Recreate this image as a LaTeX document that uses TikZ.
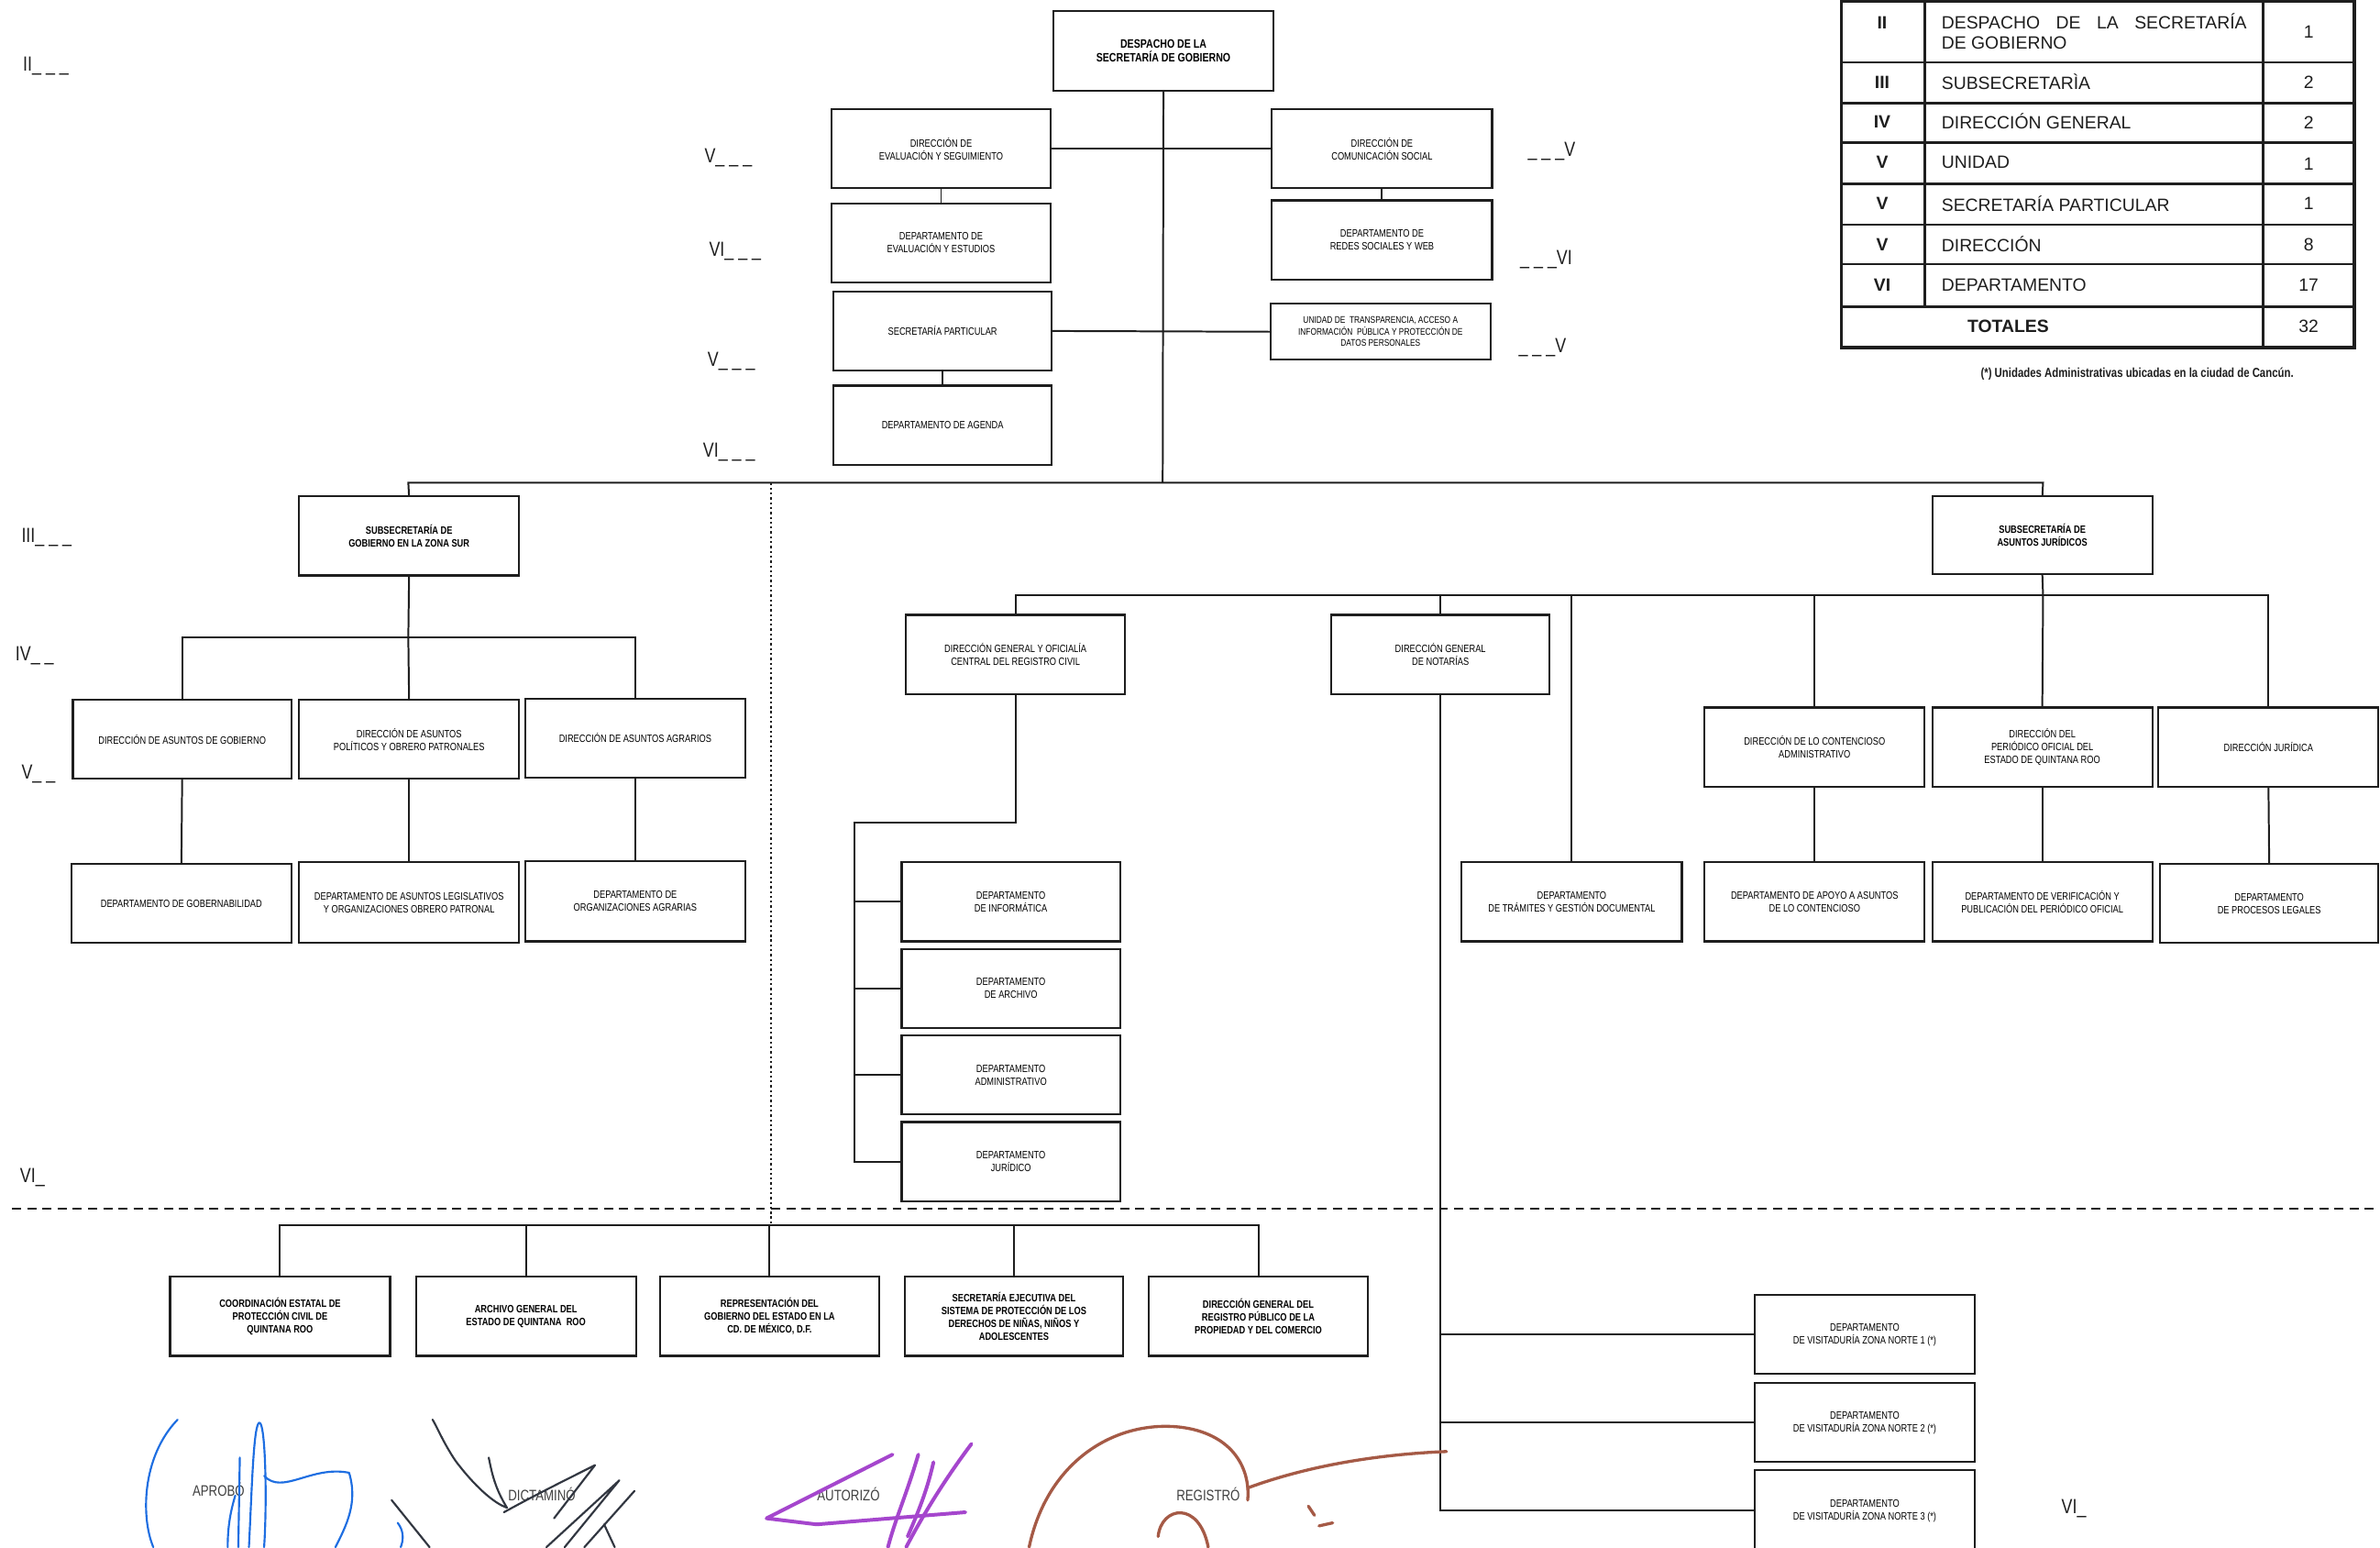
\documentclass[tikz,border=0pt]{standalone}
\usepackage{fontspec}
\setmainfont{Liberation Sans}
\newfontfamily\nrw[FakeStretch=0.8]{Liberation Sans}
\definecolor{sigblue}{RGB}{30,110,225}
\definecolor{sigblack}{RGB}{50,55,65}
\definecolor{sigpurple}{RGB}{165,70,205}
\definecolor{sigbrown}{RGB}{165,90,70}
\definecolor{ink}{RGB}{30,30,30}
\newcommand{\obox}[7][bx]{\node[#1,minimum width={#4-#2},minimum height={#5-#3}] (#6) at ({(#2+#4)/2},{(#3+#5)/2}) {#7};}
\begin{document}
\begin{tikzpicture}[x=1pt,y=-1pt,
  bx/.style={draw=ink,line width=1.3pt,inner sep=1pt,outer sep=0pt,align=center,fill=white,font=\nrw\fontsize{7}{8.5}\selectfont},
  bxb/.style={bx,font=\nrw\bfseries\fontsize{7}{8.5}\selectfont},
  bxt/.style={bx,font=\nrw\fontsize{6.3}{7.6}\selectfont},
  ln/.style={draw=ink,line width=1.2pt},
  lvl/.style={font=\nrw\fontsize{13.5}{14}\selectfont,inner sep=0pt,text=ink},
  tb/.style={font=\fontsize{11.7}{14}\selectfont,inner sep=0pt,text=ink},
  tbb/.style={tb,font=\bfseries\fontsize{11.7}{14}\selectfont},
  sigl/.style={font=\nrw\fontsize{10}{11}\selectfont,inner sep=0pt,text=black!75},
  sg/.style={line width=1.3pt,line cap=round,line join=round}]
\useasboundingbox[fill=white] (0,0) rectangle (1568,1019);

% ---------- top level ----------
\obox[bx,font=\nrw\bfseries\fontsize{8}{9.5}\selectfont]{694}{7}{839}{60}{despacho}{DESPACHO DE LA\\SECRETARÍA DE GOBIERNO}
\obox{548}{72}{692}{124}{eval}{DIRECCIÓN DE\\EVALUACIÓN Y SEGUIMIENTO}
\obox{548}{134}{692}{186}{depeval}{DEPARTAMENTO DE\\EVALUACIÓN Y ESTUDIOS}
\obox{549}{192}{693}{244}{secpar}{SECRETARÍA PARTICULAR}
\obox{549}{254}{693}{306}{agenda}{DEPARTAMENTO DE AGENDA}
\obox{838}{72}{983}{124}{com}{DIRECCIÓN DE\\COMUNICACIÓN SOCIAL}
\obox{838}{132}{983}{184}{redes}{DEPARTAMENTO DE\\REDES SOCIALES Y WEB}
\obox[bxt]{837}{200}{982}{237}{transp}{UNIDAD DE \ TRANSPARENCIA, ACCESO A\\INFORMACIÓN \ PÚBLICA Y PROTECCIÓN DE\\DATOS PERSONALES}

\coordinate (mb) at (766,318);
\coordinate (mbL) at (269,318);
\coordinate (mbR) at (1346,318);
\draw[ln] (despacho.south) -- (mb);
\draw[ln] (eval.east) -- (com.west);
\draw[ln] (secpar.east) -- (transp.west);
\draw[ln] (eval.south) -- (depeval.north);
\draw[ln] (secpar.south) -- (agenda.north);
\draw[ln] (com.south) -- (redes.north);

% ---------- subsecretarias ----------
\obox[bxb]{197}{327}{342}{379}{sur}{SUBSECRETARÍA DE\\GOBIERNO EN LA ZONA SUR}
\obox[bxb]{1273}{327}{1418}{378}{jur}{SUBSECRETARÍA DE\\ASUNTOS JURÍDICOS}
\draw[ln] (sur.north) -- (mbL) -- (mbR) -- (jur.north);

% ---------- zona sur ----------
\obox{48}{461}{192}{513}{dag}{DIRECCIÓN DE ASUNTOS DE GOBIERNO}
\obox{197}{461}{342}{513}{dap}{DIRECCIÓN DE ASUNTOS\\POLÍTICOS Y OBRERO PATRONALES}
\obox{346}{460}{491}{512}{daa}{DIRECCIÓN DE ASUNTOS AGRARIOS}
\obox{47}{569}{192}{621}{gob}{DEPARTAMENTO DE GOBERNABILIDAD}
\obox{197}{568}{342}{621}{leg}{DEPARTAMENTO DE ASUNTOS LEGISLATIVOS\\Y ORGANIZACIONES OBRERO PATRONAL}
\obox{346}{567}{491}{620}{org}{DEPARTAMENTO DE\\ORGANIZACIONES AGRARIAS}
\coordinate (sb) at (269,420);
\draw[ln] (sur.south) -- (sb);
\draw[ln] (dag.north) |- (sb) -| (daa.north);
\draw[ln] (sb) -- (dap.north);
\draw[ln] (dag.south) -- (gob.north);
\draw[ln] (dap.south) -- (leg.north);
\draw[ln] (daa.south) -- (org.north);

% ---------- asuntos juridicos ----------
\obox{597}{405}{741}{457}{rc}{DIRECCIÓN GENERAL Y OFICIALÍA\\CENTRAL DEL REGISTRO CIVIL}
\obox{877}{405}{1021}{457}{not}{DIRECCIÓN GENERAL\\DE NOTARÍAS}
\obox{963}{568}{1108}{620}{tram}{DEPARTAMENTO\\DE TRÁMITES Y GESTIÓN DOCUMENTAL}
\obox{1123}{466}{1268}{518}{cont}{DIRECCIÓN DE LO CONTENCIOSO\\ADMINISTRATIVO}
\obox{1273}{466}{1418}{518}{per}{DIRECCIÓN DEL\\PERIÓDICO OFICIAL DEL\\ESTADO DE QUINTANA ROO}
\obox{1422}{466}{1567}{518}{dj}{DIRECCIÓN JURÍDICA}
\obox{1123}{568}{1268}{620}{apoyo}{DEPARTAMENTO DE APOYO A ASUNTOS\\DE LO CONTENCIOSO}
\obox{1273}{568}{1418}{620}{verif}{DEPARTAMENTO DE VERIFICACIÓN Y\\PUBLICACIÓN DEL PERIÓDICO OFICIAL}
\obox{1423}{569}{1567}{621}{proc}{DEPARTAMENTO\\DE PROCESOS LEGALES}
\coordinate (jb) at (1346,392);
\draw[ln] (jur.south) -- (jb);
\draw[ln] (rc.north) |- (jb) -| (dj.north);
\draw[ln] (not.north) -- (not.north |- jb);
\draw[ln] (tram.north) -- (tram.north |- jb);
\draw[ln] (cont.north) -- (cont.north |- jb);
\draw[ln] (per.north) -- (jb);
\draw[ln] (cont.south) -- (apoyo.north);
\draw[ln] (per.south) -- (verif.north);
\draw[ln] (dj.south) -- (proc.north);

% registro civil departments
\obox{594}{568}{738}{620}{inf}{DEPARTAMENTO\\DE INFORMÁTICA}
\obox{594}{625}{738}{677}{arch}{DEPARTAMENTO\\DE ARCHIVO}
\obox{594}{682}{738}{734}{adm}{DEPARTAMENTO\\ADMINISTRATIVO}
\obox{594}{739}{738}{791}{jurid}{DEPARTAMENTO\\JURÍDICO}
\coordinate (rc1) at (669,542);
\coordinate (rc2) at (563,542);
\draw[ln] (rc.south) -- (rc1) -- (rc2) -- (rc2 |- jurid.west) -- (jurid.west);
\draw[ln] (rc2 |- inf.west) -- (inf.west);
\draw[ln] (rc2 |- arch.west) -- (arch.west);
\draw[ln] (rc2 |- adm.west) -- (adm.west);

% notarias departments
\obox{1156}{853}{1301}{905}{n1}{DEPARTAMENTO\\DE VISITADURÍA ZONA NORTE 1 (*)}
\obox{1156}{911}{1301}{963}{n2}{DEPARTAMENTO\\DE VISITADURÍA ZONA NORTE 2 (*)}
\obox{1156}{968}{1301}{1022}{n3}{DEPARTAMENTO\\DE VISITADURÍA ZONA NORTE 3 (*)}
\draw[ln] (not.south) -- (not.south |- n3.west) -- (n3.west);
\draw[ln] (not.south |- n1.west) -- (n1.west);
\draw[ln] (not.south |- n2.west) -- (n2.west);

% ---------- dashed separator and lower group ----------
\coordinate (dsL) at (8,796);
\coordinate (dsR) at (1568,796);
\draw[draw=ink,line width=1.1pt,dash pattern=on 6pt off 4pt] (dsL) -- (dsR);
\coordinate (dotTop) at (508,318);
\coordinate (bb) at (508,807);
\draw[draw=ink,line width=1pt,dash pattern=on 1.4pt off 1.8pt] (dotTop) -- (bb);

\obox[bxb]{112}{841}{257}{893}{cepc}{COORDINACIÓN ESTATAL DE\\PROTECCIÓN CIVIL DE\\QUINTANA ROO}
\obox[bxb]{274}{841}{419}{893}{agen}{ARCHIVO GENERAL DEL\\ESTADO DE QUINTANA \ ROO}
\obox[bxb]{435}{841}{579}{893}{rep}{REPRESENTACIÓN DEL\\GOBIERNO DEL ESTADO EN LA\\CD. DE MÉXICO, D.F.}
\obox[bxb]{596}{841}{740}{893}{sej}{SECRETARÍA EJECUTIVA DEL\\SISTEMA DE PROTECCIÓN DE LOS\\DERECHOS DE NIÑAS, NIÑOS Y\\ADOLESCENTES}
\obox[bxb]{757}{841}{901}{893}{rpp}{DIRECCIÓN GENERAL DEL\\REGISTRO PÚBLICO DE LA\\PROPIEDAD Y DEL COMERCIO}
\draw[ln] (cepc.north) |- (bb) -| (rpp.north);
\draw[ln] (agen.north) -- (agen.north |- bb);
\draw[ln] (rep.north) -- (rep.north |- bb);
\draw[ln] (sej.north) -- (sej.north |- bb);

% ---------- level labels ----------
\node[lvl,anchor=base west] (l1) at (15,47) {II\_ \_ \_};
\node[lvl,anchor=base west] (l2) at (14,357) {III\_ \_ \_};
\node[lvl,anchor=base west] (l3) at (10,435) {IV\_ \_};
\node[lvl,anchor=base west] (l4) at (14,513) {V\_ \_};
\node[lvl,anchor=base west] (l5) at (13,779) {VI\_};
\node[lvl,anchor=base west] (l6) at (464,107) {V\_ \_ \_};
\node[lvl,anchor=base west] (l7) at (467,169) {VI\_ \_ \_};
\node[lvl,anchor=base west] (l8) at (466,241) {V\_ \_ \_};
\node[lvl,anchor=base west] (l9) at (463,301) {VI\_ \_ \_};
\node[lvl,anchor=base east] (l10) at (1038,103) {\_ \_ \_V};
\node[lvl,anchor=base east] (l11) at (1036,174) {\_ \_ \_VI};
\node[lvl,anchor=base east] (l12) at (1032,232) {\_ \_ \_V};
\node[lvl,anchor=base west] (l13) at (1358,997) {VI\_};

% ---------- table ----------
\draw[draw=ink,line width=2pt] (1213,0) -- (1213,229) -- (1551,229) -- (1551,0);
\draw[draw=ink,line width=2pt] (1213,1) -- (1551,1);
\foreach \yy in {41,68,94,121,148,174,202}
  \draw[draw=ink,line width=1.6pt] (1213,\yy) -- (1551,\yy);
\draw[draw=ink,line width=1.6pt] (1268,0) -- (1268,202);
\draw[draw=ink,line width=1.6pt] (1491,0) -- (1491,229);

\node[tbb] (t1a) at (1240,15) {II};
\node[tbb] (t2a) at (1240,54) {III};
\node[tbb] (t3a) at (1240,80) {IV};
\node[tbb] (t4a) at (1240,107) {V};
\node[tbb] (t5a) at (1240,134) {V};
\node[tbb] (t6a) at (1240,161) {V};
\node[tbb] (t7a) at (1240,188) {VI};
\node[tb,anchor=west] (t1b) at (1279,14) {\makebox[201pt][s]{DESPACHO DE LA SECRETARÍA}};
\node[tb,anchor=west] (t1c) at (1279,28) {DE GOBIERNO};
\node[tb,anchor=west] (t2b) at (1279,54) {SUBSECRETARÌA};
\node[tb,anchor=west] (t3b) at (1279,80) {DIRECCIÓN GENERAL};
\node[tb,anchor=west] (t4b) at (1279,107) {UNIDAD};
\node[tb,anchor=west] (t5b) at (1279,134) {SECRETARÍA PARTICULAR};
\node[tb,anchor=west] (t6b) at (1279,161) {DIRECCIÓN};
\node[tb,anchor=west] (t7b) at (1279,188) {DEPARTAMENTO};
\node[tb] (t1d) at (1521,21) {1};
\node[tb] (t2d) at (1521,54) {2};
\node[tb] (t3d) at (1521,81) {2};
\node[tb] (t4d) at (1521,108) {1};
\node[tb] (t5d) at (1521,134) {1};
\node[tb] (t6d) at (1521,161) {8};
\node[tb] (t7d) at (1521,188) {17};
\node[tbb] (t8a) at (1323,215) {TOTALES};
\node[tb] (t8d) at (1521,215) {32};
\node[inner sep=0pt,text=ink,font=\nrw\bfseries\fontsize{8.6}{10}\selectfont] (foot) at (1408,246) {(*) Unidades Administrativas ubicadas en la ciudad de Cancún.};

% ---------- signatures ----------
\node[sigl] (s1) at (144,981) {APROBÓ};
\node[sigl] (s2) at (357,984) {DICTAMINÓ};
\node[sigl] (s3) at (559,984) {AUTORIZÓ};
\node[sigl] (s4) at (796,984) {REGISTRÓ};

\begin{scope}[sg,draw=sigblue]
\draw (117,935) .. controls (93,960) and (93,1000) .. (101,1019);
\draw (150,1019) .. controls (150,1005) and (152,995) .. (155,985);
\draw (157,1019) -- (158,960);
\draw (164,1019) .. controls (166,980) and (167,937) .. (171,937) .. controls (175,938) and (176,990) .. (174,1019);
\draw (174,972) .. controls (186,985) and (205,965) .. (230,970) .. controls (236,990) and (228,1005) .. (221,1019);
\draw (262,1003) .. controls (266,1008) and (266,1014) .. (264,1019);
\end{scope}

\begin{scope}[sg,draw=sigblack]
\draw (285,935) .. controls (288,940) and (292,950) .. (300,962) .. controls (312,978) and (325,990) .. (334,993) .. controls (326,980) and (324,970) .. (322,960);
\draw (332,996) .. controls (352,985) and (372,975) .. (392,965) -- (365,1000);
\draw (360,1019) -- (408,975) -- (372,1019);
\draw (385,1019) -- (418,982);
\draw (258,988) -- (283,1019);
\draw (398,1004) -- (405,1019);
\end{scope}

\begin{scope}[sg,draw=sigpurple,line width=2.4pt]
\draw (588,958) -- (505,1000) -- (538,1004) -- (636,996);
\draw (605,958) .. controls (597,985) and (590,1000) .. (585,1019);
\draw (640,951) .. controls (622,975) and (608,998) .. (597,1019);
\draw (615,963) .. controls (610,985) and (603,1000) .. (598,1012);
\end{scope}

\begin{scope}[sg,draw=sigbrown,line width=2pt]
\draw (678,1019) .. controls (690,962) and (735,935) .. (778,940) .. controls (810,944) and (824,965) .. (822,988);
\draw (822,980) .. controls (860,966) and (905,958) .. (953,956);
\draw (763,1012) .. controls (765,992) and (790,988) .. (796,1019);
\draw (862,992) -- (866,998);
\draw (869,1005) -- (878,1003);
\end{scope}

\end{tikzpicture}
\end{document}
